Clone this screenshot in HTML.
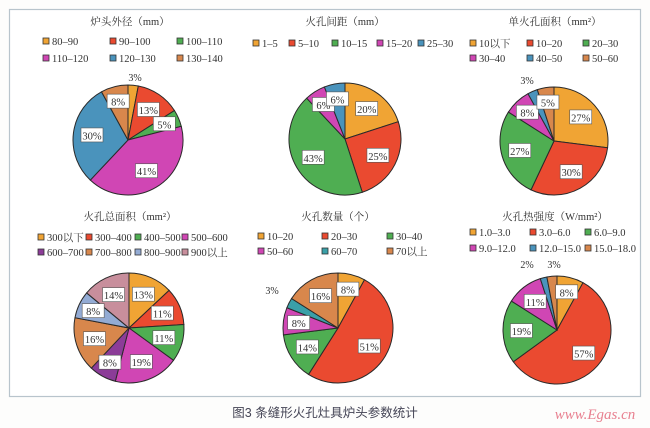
<!DOCTYPE html>
<html><head><meta charset="utf-8"><style>
body{margin:0;background:#fff;}
svg{display:block;}
text{font-family:"Liberation Serif","Noto Serif CJK SC",serif;fill:#333;}
</style></head><body>
<svg id="s" width="650" height="428" xmlns="http://www.w3.org/2000/svg">
<rect x="0" y="0" width="650" height="428" fill="#fdfdfc"/>
<rect x="9.5" y="9.5" width="631" height="387" fill="#fff" stroke="#b8c4cc" stroke-width="1.2"/>
<text x="325" y="417" text-anchor="middle" font-size="12.5" style="font-family:'Liberation Sans','Noto Sans CJK SC',sans-serif;fill:#445">图3  条缝形火孔灶具炉头参数统计</text>
<text x="595" y="419" text-anchor="middle" font-size="15" font-style="italic" style="fill:#e88090">www.Egas.cn</text>
</svg>
<script>
const s=document.getElementById('s');const NS='http://www.w3.org/2000/svg';
function el(t,a,txt){const e=document.createElementNS(NS,t);for(const k in a)e.setAttribute(k,a[k]);if(txt!==undefined)e.textContent=txt;s.appendChild(e);return e;}
const O='#f0a434',R='#ea4a30',G='#4fae52',M='#d046b4',B='#4a93bc',BR='#d8874c',P='#8c3c98',LB='#93abd4',PK='#c88e9c',T='#3aa0a8';
const charts=[
{title:'炉头外径（mm）',tx:130,ty:25,cx:128,cy:140,r:55,v:[3,13,5,41,30,8],c:[O,R,G,M,B,BR],
 leg:[['80–90',43,45],['90–100',110,45],['100–110',177,45],['110–120',43,62],['120–130',110,62],['130–140',177,62]],out:{0:[135,81]}},
{title:'火孔间距（mm）',tx:345,ty:25,cx:345,cy:139,r:56,v:[20,25,43,6,6],c:[O,R,G,M,B],
 leg:[['1–5',253,47],['5–10',289,47],['10–15',332,47],['15–20',377,47],['25–30',418,47]],out:{}},
{title:'单火孔面积（mm²）',tx:555,ty:25,cx:554,cy:141,r:54,v:[27,30,27,8,3,5],c:[O,R,G,M,B,BR],
 leg:[['10以下',470,47],['10–20',527,47],['20–30',583,47],['30–40',470,62],['40–50',527,62],['50–60',583,62]],out:{4:[527,84]}},
{title:'火孔总面积（mm²）',tx:130,ty:220,cx:129,cy:328,r:55,v:[13,11,11,19,8,16,8,14],c:[O,R,G,M,P,BR,LB,PK],
 leg:[['300以下',38,241],['300–400',86,241],['400–500',135,241],['500–600',182,241],['600–700',38,256],['700–800',86,256],['800–900',135,256],['900以上',182,256]],out:{}},
{title:'火孔数量（个）',tx:338,ty:220,cx:338,cy:328,r:55,v:[8,51,14,8,3,16],c:[O,R,G,M,T,BR],
 leg:[['10–20',258,240],['20–30',322,240],['30–40',387,240],['50–60',258,255],['60–70',322,255],['70以上',387,255]],out:{4:[272,294]}},
{title:'火孔热强度（W/mm²）',tx:555,ty:220,cx:557,cy:330,r:54,v:[8,57,19,11,2,3],c:[O,R,G,M,B,BR],
 leg:[['1.0–3.0',470,236],['3.0–6.0',530,236],['6.0–9.0',585,236],['9.0–12.0',470,252],['12.0–15.0',530,252],['15.0–18.0',585,252]],out:{4:[527,268],5:[554,268]}}
];
for(const ch of charts){
 el('text',{x:ch.tx,y:ch.ty,'text-anchor':'middle','font-size':10.5},ch.title);
 ch.leg.forEach((l,i)=>{el('rect',{x:l[1],y:l[2]-7,width:6,height:6,fill:ch.c[i],stroke:'#333','stroke-width':0.8});
  el('text',{x:l[1]+9,y:l[2],'font-size':10.5},l[0]);});
 let a=-Math.PI/2;const tot=ch.v.reduce((p,q)=>p+q,0);const labs=[];
 ch.v.forEach((v,i)=>{const da=v/tot*2*Math.PI;const a2=a+da;
  const x1=ch.cx+ch.r*Math.cos(a),y1=ch.cy+ch.r*Math.sin(a),x2=ch.cx+ch.r*Math.cos(a2),y2=ch.cy+ch.r*Math.sin(a2);
  el('path',{d:`M${ch.cx},${ch.cy}L${x1},${y1}A${ch.r},${ch.r} 0 ${da>Math.PI?1:0} 1 ${x2},${y2}Z`,fill:ch.c[i],stroke:'#2a2a2a','stroke-width':1});
  const m=(a+a2)/2;labs.push([i,v,m]);a=a2;});
 for(const [i,v,m] of labs){
  if(ch.out[i]){const p=ch.out[i];el('text',{x:p[0],y:p[1],'text-anchor':'middle','font-size':10},v+'%');continue;}
  const rr=v<10?0.72:0.66;const x=ch.cx+ch.r*rr*Math.cos(m),y=ch.cy+ch.r*rr*Math.sin(m);
  el('rect',{x:x-11,y:y-7.5,width:22,height:14,fill:'#fff',stroke:'#555','stroke-width':0.6});
  el('text',{x:x,y:y+4,'text-anchor':'middle','font-size':10.5},v+'%');}
}
</script>
</body></html>
